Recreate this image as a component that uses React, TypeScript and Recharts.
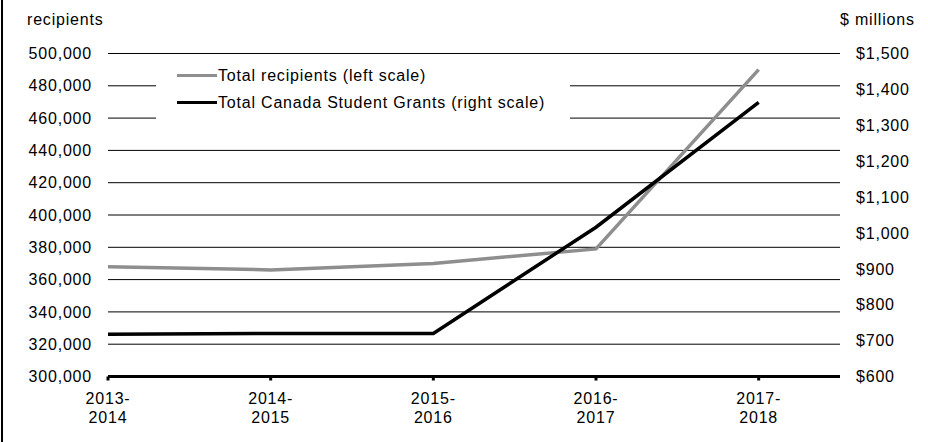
import React from 'react';
import { LineChart, Line, XAxis, YAxis, CartesianGrid } from 'recharts';

const categories = ['2013-2014', '2014-2015', '2015-2016', '2016-2017', '2017-2018'];
const recipients = [368000, 366000, 370000, 379000, 490000];
const grants = [718, 720, 720, 1016, 1364];
const leftTicks = [300000, 320000, 340000, 360000, 380000, 400000, 420000, 440000, 460000, 480000, 500000];
const rightTicks = [600, 700, 800, 900, 1000, 1100, 1200, 1300, 1400, 1500];
const seriesNames = ['Total recipients (left scale)', 'Total Canada Student Grants (right scale)'];
const leftTitle = 'recipients';
const rightTitle = '$ millions';

const GRAY = '#8e8e8e';
const FONT = '"Liberation Sans", Arial, Helvetica, sans-serif';

const data = categories.map((c, i) => ({ x: i, cat: c, recipients: recipients[i], grants: grants[i] }));

const XTick = (props: any) => {
  const { x, y, payload } = props;
  const label: string = categories[payload.value] ?? '';
  const idx = label.indexOf('-');
  const a = label.slice(0, idx + 1);
  const b = label.slice(idx + 1);
  return (
    <text x={x} y={y} textAnchor="middle" fill="#000" fontSize={16} fontFamily={FONT}>
      <tspan x={x} dy={21.5}>{a}</tspan>
      <tspan x={x} dy={19}>{b}</tspan>
    </text>
  );
};

export default function App() {
  const tickStyle = { fill: '#000', fontSize: 16, fontFamily: FONT };
  return (
    <div
      style={{
        position: 'absolute',
        left: 0,
        top: 0,
        width: 928,
        height: 442,
        background: '#fff',
        fontFamily: FONT,
        letterSpacing: '0.8px',
        color: '#000',
      }}
    >
      <LineChart
        width={928}
        height={442}
        data={data}
        margin={{ top: 53.5, right: 0, left: 0, bottom: 20.5 }}
      >
        <CartesianGrid yAxisId="left" vertical={false} stroke="#000" strokeWidth={1} />
        <XAxis
          dataKey="x"
          type="number"
          domain={[0, 4.5]}
          ticks={[0, 1, 2, 3, 4]}
          height={45}
          axisLine={{ stroke: '#000', strokeWidth: 3 }}
          tickLine={{ stroke: '#000', strokeWidth: 3 }}
          tickSize={4}
          tickMargin={2}
          tick={<XTick />}
          interval={0}
          allowDataOverflow
        />
        <YAxis
          yAxisId="left"
          orientation="left"
          domain={[300000, 500000]}
          ticks={leftTicks}
          width={108}
          axisLine={false}
          tickLine={false}
          tickSize={0}
          tickMargin={16}
          tick={tickStyle}
          interval={0}
          tickFormatter={(v: number) => v.toLocaleString('en-US')}
        />
        <YAxis
          yAxisId="right"
          orientation="right"
          domain={[600, 1500]}
          ticks={rightTicks}
          width={88}
          axisLine={false}
          tickLine={false}
          tickSize={0}
          tickMargin={16}
          tick={tickStyle}
          interval={0}
          tickFormatter={(v: number) => '$' + v.toLocaleString('en-US')}
        />
        <Line
          yAxisId="left"
          type="linear"
          dataKey="recipients"
          name={seriesNames[0]}
          stroke={GRAY}
          strokeWidth={3.5}
          dot={false}
          isAnimationActive={false}
        />
        <Line
          yAxisId="right"
          type="linear"
          dataKey="grants"
          name={seriesNames[1]}
          stroke="#000"
          strokeWidth={3.5}
          dot={false}
          isAnimationActive={false}
        />
      </LineChart>

      <div style={{ position: 'absolute', left: 1, top: 0, width: 2, height: 442, background: '#000' }} />

      <div style={{ position: 'absolute', left: 27, top: 11, fontSize: 16, lineHeight: '18px', whiteSpace: 'nowrap' }}>
        {leftTitle}
      </div>
      <div style={{ position: 'absolute', left: 840, top: 11, fontSize: 16, lineHeight: '18px', whiteSpace: 'nowrap' }}>
        {rightTitle}
      </div>

      <div
        style={{
          position: 'absolute',
          left: 156,
          top: 62,
          width: 414,
          height: 72,
          background: '#fff',
          fontSize: 16,
        }}
      >
        {[GRAY, '#000'].map((col, i) => (
          <div key={i} style={{ display: 'flex', alignItems: 'center', height: 27, whiteSpace: 'nowrap' }}>
            <span style={{ display: 'inline-block', width: 40, height: 3, background: col, marginLeft: 21, marginRight: 1 }} />
            <span>{seriesNames[i]}</span>
          </div>
        ))}
      </div>
    </div>
  );
}
